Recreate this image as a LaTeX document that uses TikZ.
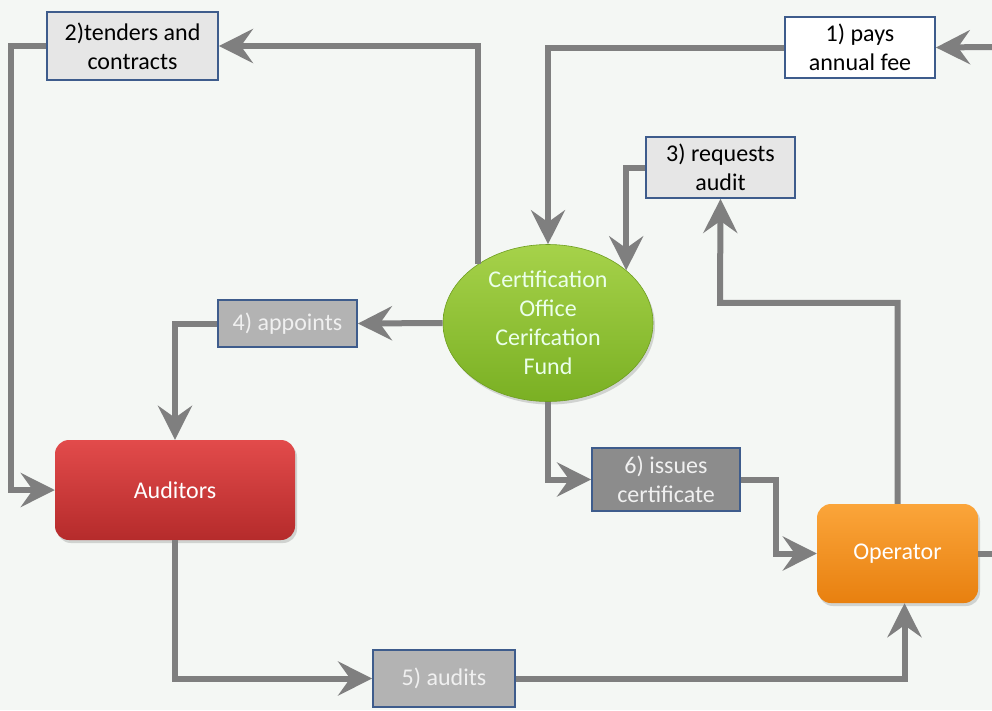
\documentclass[tikz,border=0pt]{standalone}
\usepackage{fontspec}
\setmainfont{Carlito}
\usetikzlibrary{arrows.meta,positioning,shapes.geometric,shadows}
\definecolor{PageTint}{HTML}{F4F7F4}
\definecolor{FlowGray}{HTML}{7F7F7F}
\definecolor{FrameBlue}{HTML}{3E5C8C}
\definecolor{PaleBox}{HTML}{E6E6E6}
\definecolor{MidBox}{HTML}{B3B3B3}
\definecolor{DarkBox}{HTML}{8C8C8C}
\definecolor{FundTop}{HTML}{A6D24A}
\definecolor{FundBottom}{HTML}{7AB023}
\definecolor{AuditTop}{HTML}{E24B4B}
\definecolor{AuditBottom}{HTML}{B52B2B}
\definecolor{OperTop}{HTML}{FBA53A}
\definecolor{OperBottom}{HTML}{E8800F}

\begin{document}
\begin{tikzpicture}[x=1pt, y=-1pt, font=\fontsize{24}{29}\selectfont,
  flow/.style={draw=FlowGray, line width=6pt,
    -{Stealth[length=34pt, width=34pt, inset=12pt]}},
  plainflow/.style={draw=FlowGray, line width=6pt},
  stagebox/.style={draw=FrameBlue, line width=1.8pt, inner sep=0pt, align=center},
  actor/.style={rounded corners=14pt, inner sep=0pt, text=white,
    drop shadow={shadow xshift=2pt, shadow yshift=-3pt, opacity=0.3}}]
  % Canvas.
  \fill[PageTint] (0,0) rectangle (992,710);
  \useasboundingbox (0,0) rectangle (992,710);

  % The step boxes.
  \node[stagebox, fill=PaleBox, minimum width=171pt, minimum height=68pt]
    (tenders) at (132.5,46) {2)tenders and\\contracts};
  \node[stagebox, fill=white, minimum width=150pt, minimum height=61pt]
    (fee) at (860,47.5) {1) pays\\annual fee};
  \node[stagebox, fill=PaleBox, minimum width=149pt, minimum height=61pt]
    (request) at (720.5,167.5) {3) requests\\audit};
  \node[stagebox, fill=MidBox, text=white!94!black, minimum width=139pt, minimum height=47pt]
    (appoint) at (287.5,323.5) {4) appoints};
  \node[stagebox, fill=DarkBox, text=white!94!black, minimum width=148pt, minimum height=63pt]
    (issue) at (666,479.5) {6) issues\\certificate};
  \node[stagebox, fill=MidBox, text=white!94!black, minimum width=142pt, minimum height=57pt]
    (audit) at (444,678.5) {5) audits};

  % The parties.
  \node[ellipse, draw=FundBottom!90!black, line width=0.6pt, top color=FundTop,
    bottom color=FundBottom, minimum width=210pt, minimum height=157pt,
    inner sep=0pt, align=center, text=green!8!white,
    drop shadow={shadow xshift=2pt, shadow yshift=-3pt, opacity=0.3}]
    (fund) at (548,323) {Certification\\Office\\Cerifcation\\Fund};
  \node[actor, top color=AuditTop, bottom color=AuditBottom,
    minimum width=240pt, minimum height=100pt] (auditors) at (175,490) {Auditors};
  \node[actor, top color=OperTop, bottom color=OperBottom,
    minimum width=161pt, minimum height=99pt] (operator) at (897.5,553.5) {Operator};

  % Free ends at the right edge.
  \coordinate (feeIn) at (992,47);
  \coordinate (operOut) at (992,553.5);

  % Money and work flows.
  \draw[flow] (feeIn) -- (fee.east);
  \draw[flow] (fee.west) -| (fund.north);
  \draw[flow] (fund.140) |- (tenders.east);
  \draw[flow] (tenders.west) -- ++(-35,0) |- (auditors.west);
  \draw[flow] (request.west) -| (fund.34.5);
  \draw[flow] (operator.north) |- ++(-177.5,-201) -- (request.south);
  \draw[flow] (fund.west) -- (appoint.east);
  \draw[flow] (appoint.west) -| (auditors.north);
  \draw[flow] (fund.south) |- (issue.west);
  \draw[flow] (issue.east) -- ++(35,0) |- (operator.west);
  \draw[flow] (auditors.south) |- (audit.west);
  \draw[flow] (audit.east) -| ([xshift=7pt]operator.south);
  \draw[plainflow] (operator.east) -- (operOut);
\end{tikzpicture}
\end{document}
